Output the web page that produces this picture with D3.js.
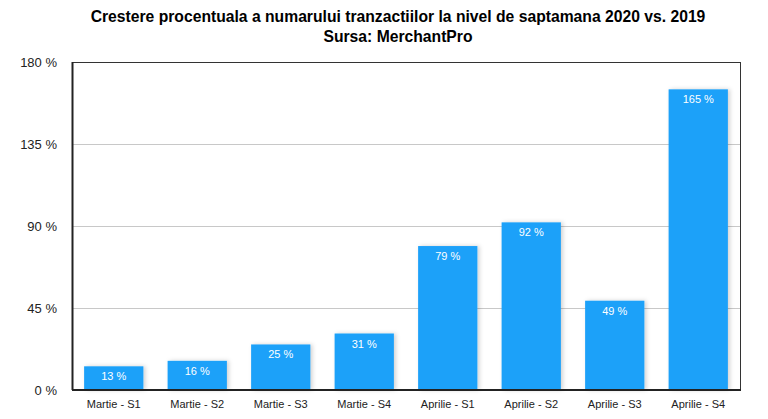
<!DOCTYPE html>
<html lang="ro">
<head>
    <meta charset="UTF-8">
    <title>Crestere procentuala tranzactii</title>
    <script src="https://d3js.org/d3.v7.min.js"></script>
    <style>
        body { margin: 0; background: #fff; }
        text { font-family: "Liberation Sans", Arial, sans-serif; }
        .title { font-weight: bold; font-size: 15.7px; fill: #000; }
        .y-label { font-size: 13px; fill: #222; }
        .x-label { font-size: 11px; fill: #222; }
        .bar-label { font-size: 11px; fill: #fff; }
        .grid { stroke: #c8c8c8; stroke-width: 1px; }
    </style>
</head>
<body>
    <div class="chart"></div>
    <script>
        const categories = ['Martie - S1', 'Martie - S2', 'Martie - S3', 'Martie - S4',
                            'Aprilie - S1', 'Aprilie - S2', 'Aprilie - S3', 'Aprilie - S4'];
        const values = [13, 16, 25, 31, 79, 92, 49, 165];
        const yTicks = [0, 45, 90, 135, 180];
        const titleLines = ['Crestere procentuala a numarului tranzactiilor la nivel de saptamana 2020 vs. 2019',
                            'Sursa: MerchantPro'];

        const width = 768, height = 419;
        const margin = { top: 62, right: 28, bottom: 29, left: 72 };
        const innerW = width - margin.left - margin.right;
        const innerH = height - margin.top - margin.bottom;

        const svg = d3.select('.chart').append('svg')
            .attr('width', width)
            .attr('height', height);

        const defs = svg.append('defs');
        const shadow = defs.append('filter')
            .attr('id', 'shadow')
            .attr('x', '-20%').attr('y', '-20%')
            .attr('width', '150%').attr('height', '140%');
        shadow.append('feDropShadow')
            .attr('dx', 2).attr('dy', 0)
            .attr('stdDeviation', 2)
            .attr('flood-color', '#000')
            .attr('flood-opacity', 0.18);

        svg.selectAll('.title')
            .data(titleLines)
            .join('text')
            .attr('class', 'title')
            .attr('x', 398)
            .attr('y', (d, i) => 22 + i * 20)
            .attr('text-anchor', 'middle')
            .text(d => d);

        const g = svg.append('g')
            .attr('transform', `translate(${margin.left}, ${margin.top})`);

        const x = d3.scaleBand()
            .domain(categories)
            .range([0, innerW])
            .paddingInner(0.29)
            .paddingOuter(0.145);

        const y = d3.scaleLinear()
            .domain([0, 180])
            .range([innerH, 0]);

        // grid lines
        g.selectAll('.grid')
            .data(yTicks.filter(t => t > 0 && t < 180))
            .join('line')
            .attr('class', 'grid')
            .attr('x1', 0)
            .attr('x2', innerW)
            .attr('y1', d => Math.round(y(d)) + 0.5)
            .attr('y2', d => Math.round(y(d)) + 0.5);

        // y tick labels
        g.selectAll('.y-label')
            .data(yTicks)
            .join('text')
            .attr('class', 'y-label')
            .attr('x', -15)
            .attr('y', d => y(d))
            .attr('dy', '0.35em')
            .attr('text-anchor', 'end')
            .text(d => `${d} %`);

        // bars
        g.selectAll('.bar')
            .data(values)
            .join('rect')
            .attr('class', 'bar')
            .attr('x', (d, i) => x(categories[i]))
            .attr('y', d => y(d))
            .attr('width', x.bandwidth())
            .attr('height', d => innerH - y(d))
            .attr('fill', '#1da1f9')
            .attr('filter', 'url(#shadow)');

        g.selectAll('.bar-label')
            .data(values)
            .join('text')
            .attr('class', 'bar-label')
            .attr('x', (d, i) => x(categories[i]) + x.bandwidth() / 2)
            .attr('y', d => y(d) + 14)
            .attr('text-anchor', 'middle')
            .text(d => `${d} %`);

        // x labels
        g.selectAll('.x-label')
            .data(categories)
            .join('text')
            .attr('class', 'x-label')
            .attr('x', d => x(d) + x.bandwidth() / 2)
            .attr('y', innerH + 18)
            .attr('text-anchor', 'middle')
            .text(d => d);

        // frame
        g.append('rect')
            .attr('x', 0.5)
            .attr('y', 0.5)
            .attr('width', innerW)
            .attr('height', innerH)
            .attr('fill', 'none')
            .attr('stroke', '#333')
            .attr('stroke-width', 1);
        g.append('line')
            .attr('x1', 0).attr('x2', innerW + 1)
            .attr('y1', innerH).attr('y2', innerH)
            .attr('stroke', '#222')
            .attr('stroke-width', 2);
        g.append('line')
            .attr('x1', 0.5).attr('x2', 0.5)
            .attr('y1', 0).attr('y2', innerH)
            .attr('stroke', '#222')
            .attr('stroke-width', 2);
    </script>
</body>
</html>
